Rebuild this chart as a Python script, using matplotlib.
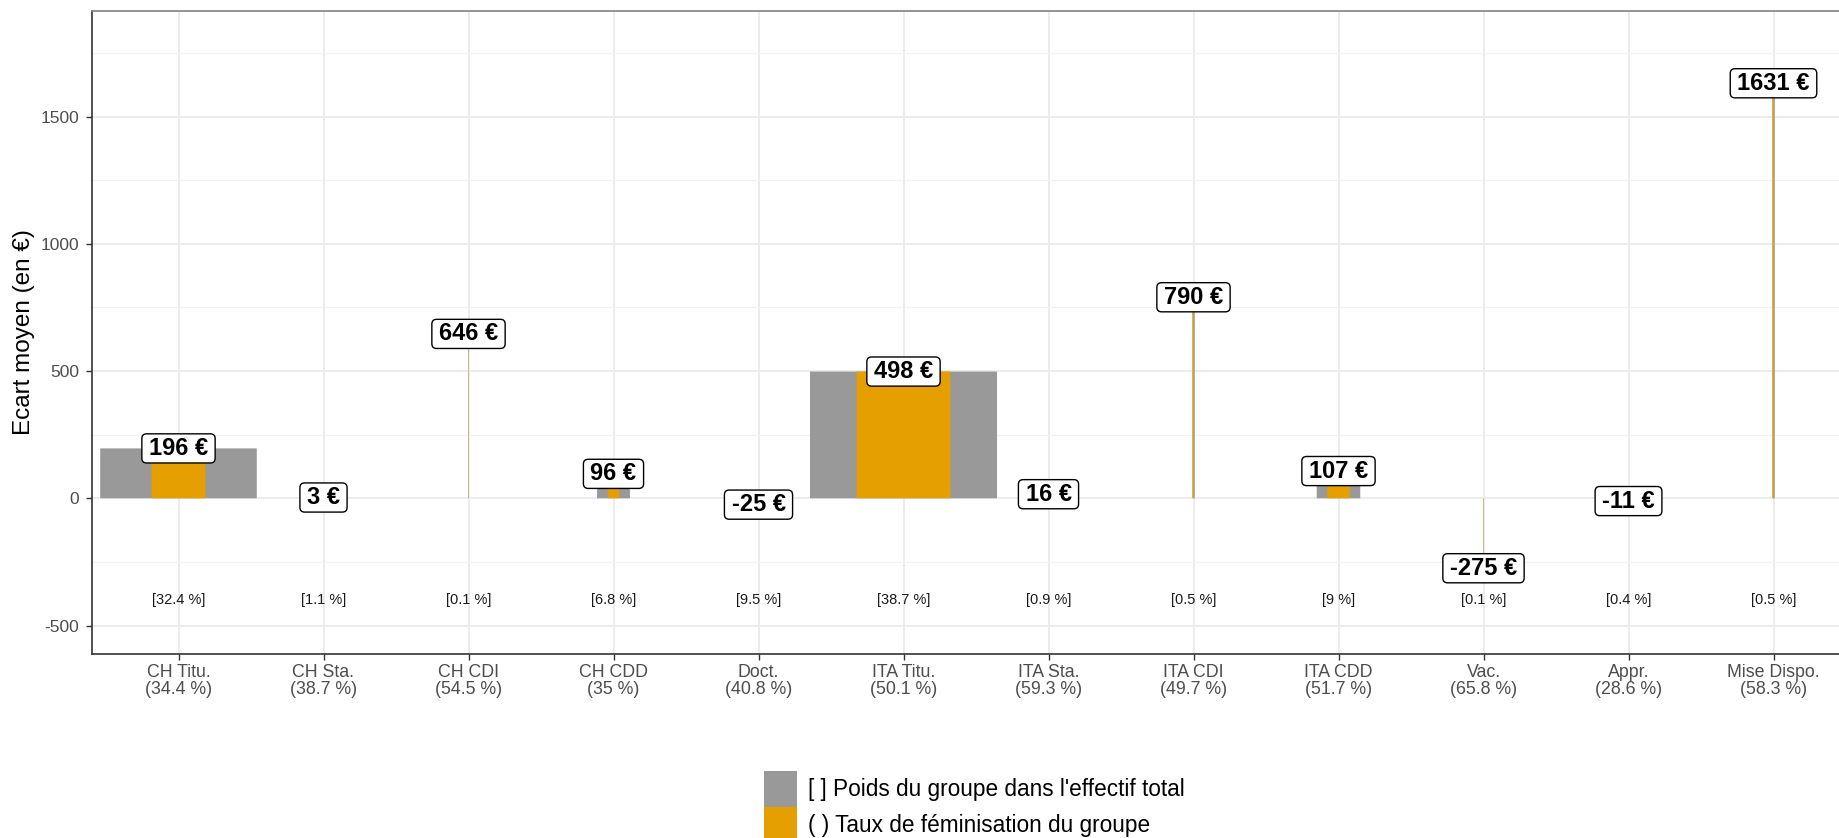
# Ecart moyen par groupe : largeur des barres = poids du groupe,
# partie orange = taux de feminisation
import matplotlib
matplotlib.use('Agg')
import matplotlib.pyplot as plt
from matplotlib.patches import Patch, BoxStyle
import numpy as np

plt.rcParams['font.family'] = ['Liberation Sans', 'DejaVu Sans']
plt.rcParams['axes.unicode_minus'] = False

# donnees
groupes = ['CH Titu.', 'CH Sta.', 'CH CDI', 'CH CDD', 'Doct.', 'ITA Titu.',
           'ITA Sta.', 'ITA CDI', 'ITA CDD', 'Vac.', 'Appr.', 'Mise Dispo.']
ecart = [196, 3, 646, 96, -25, 498, 16, 790, 107, -275, -11, 1631]
poids = [32.4, 1.1, 0.1, 6.8, 9.5, 38.7, 0.9, 0.5, 9.0, 0.1, 0.4, 0.5]
feminisation = [34.4, 38.7, 54.5, 35.0, 40.8, 50.1, 59.3, 49.7, 51.7, 65.8, 28.6, 58.3]

gris = '#999999'
orange = '#E69F00'

x = np.arange(1, len(groupes) + 1)
larg = np.array(poids) / 30
larg_fem = larg * np.array(feminisation) / 100

rond = BoxStyle.Round(pad=0, rounding_size=0.2)


# cadre arrondi type geom_label (plus de marge en largeur qu'en hauteur)
def cadre_label(x0, y0, width, height, mutation_size):
    px = 0.3 * mutation_size
    py = 0.13 * mutation_size
    return rond(x0 - px, y0 - py, width + 2 * px, height + 2 * py, mutation_size)


fig = plt.figure(figsize=(18.39, 8.38), dpi=100)
ax = fig.add_axes([91.5 / 1839, 184 / 838, 1769 / 1839, 643 / 838])

# grille facon theme_bw
ax.set_yticks([-500, 0, 500, 1000, 1500])
ax.set_yticks([-250, 250, 750, 1250, 1750], minor=True)
ax.grid(which='major', axis='y', color='#EBEBEB', lw=1.3, zorder=0)
ax.grid(which='minor', axis='y', color='#F2F2F2', lw=0.8, zorder=0)
ax.grid(which='major', axis='x', color='#EBEBEB', lw=1.3, zorder=0)
ax.set_axisbelow(True)

b1 = ax.bar(x, ecart, width=larg, color=gris, lw=0, zorder=2)
b2 = ax.bar(x, ecart, width=larg_fem, color=orange, lw=0, zorder=3)
for r in list(b1) + list(b2):
    r.set_snap(False)

for xi, v in zip(x, ecart):
    ax.text(xi, v, f"{v} €", ha='center', va='center', fontsize=17,
            fontweight='bold', color='black', zorder=5,
            bbox=dict(boxstyle=cadre_label, fc='white', ec='black', lw=1.0))

for xi, p in zip(x, poids):
    ax.text(xi, -400, f"[{p:g} %]", ha='center', va='center',
            fontsize=10.5, color='#1A1A1A', zorder=4)

ax.set_xlim(0.4, 12.6)
ax.set_ylim(-612, 1915)
ax.set_xticks(x)
ax.set_xticklabels([f"{g}\n({f:g} %)" for g, f in zip(groupes, feminisation)],
                   linespacing=1.05)
ax.tick_params(axis='both', which='major', direction='out', length=4, width=1,
               color='#333333', labelcolor='#4D4D4D', labelsize=12.8, pad=3)
ax.tick_params(axis='y', which='major', labelsize=12.5, pad=5)
ax.tick_params(axis='y', which='minor', length=0)
ax.set_ylabel('Ecart moyen (en €)', fontsize=17.5, color='black', labelpad=4)

for s in ['left', 'bottom']:
    ax.spines[s].set_color('#333333')
    ax.spines[s].set_linewidth(1.2)
ax.spines['top'].set_color('#808080')
ax.spines['top'].set_linewidth(1.2)
ax.spines['right'].set_visible(False)

handles = [Patch(fc=gris, lw=0), Patch(fc=orange, lw=0)]
fig.legend(handles, ["[ ] Poids du groupe dans l'effectif total",
                     "( ) Taux de féminisation du groupe"],
           loc='upper left', bbox_to_anchor=(764 / 1839, 1 - 771 / 838),
           frameon=False, fontsize=16.3, handlelength=1.45, handleheight=2.05,
           labelspacing=0, borderpad=0, borderaxespad=0, handletextpad=0.5)

fig.savefig('out.png', dpi=100)
